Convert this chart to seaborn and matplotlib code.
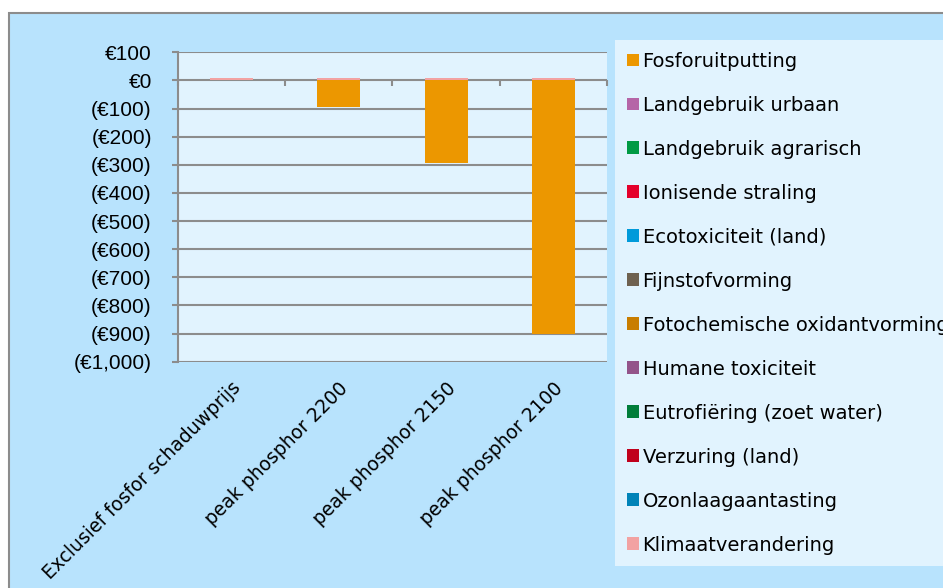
import numpy as np
import pandas as pd
import seaborn as sns
import matplotlib.pyplot as plt
from matplotlib.patches import Patch, Rectangle
from matplotlib.ticker import FuncFormatter

## Data

scenarios = ["Exclusief fosfor schaduwprijs", "peak phosphor 2200",
             "peak phosphor 2150", "peak phosphor 2100"]

# series in stacking order (Excel draws the legend in reverse)
series_names = ["Klimaatverandering", "Ozonlaagaantasting", "Verzuring (land)",
                "Eutrofiëring (zoet water)", "Humane toxiciteit",
                "Fotochemische oxidantvorming", "Fijnstofvorming",
                "Ecotoxiciteit (land)", "Ionisende straling",
                "Landgebruik agrarisch", "Landgebruik urbaan", "Fosforuitputting"]

klimaat = [9, 9, 9, 9]
ozonlaag = [0, 0, 0, 0]
verzuring = [0, 0, 0, 0]
eutrofiering = [0, 0, 0, 0]
humane_tox = [0, 0, 0, 0]
fotochem = [0, 0, 0, 0]
fijnstof = [0, 0, 0, 0]
ecotox = [0, 0, 0, 0]
ionisend = [0, 0, 0, 0]
land_agrarisch = [0, 0, 0, 0]
land_urbaan = [0, 0, 0, 0]
fosfor = [0, -96, -295, -900]

series_values = [klimaat, ozonlaag, verzuring, eutrofiering, humane_tox, fotochem,
                 fijnstof, ecotox, ionisend, land_agrarisch, land_urbaan, fosfor]

series_colors = ["#F2A2A2", "#0083B8", "#C0001C", "#007D3A", "#93548A", "#C87D00",
                 "#6E6150", "#009ADA", "#E4002B", "#009A44", "#B565A7", "#EC9700"]

yticks = [100, 0, -100, -200, -300, -400, -500, -600, -700, -800, -900, -1000]

## Plot

sns.set_theme(style="white")
plt.rcParams["font.family"] = ["DejaVu Sans"]
plt.rcParams["text.color"] = "black"

fig = plt.figure(figsize=(9.43, 5.88), dpi=100)
fig.patch.set_facecolor("white")

# outer chart frame
fig.patches.append(Rectangle((9 / 943, -0.1), 1.0, 1 - 13 / 588 + 0.1,
                             transform=fig.transFigure, facecolor="#B8E3FD",
                             edgecolor="#8C8C8C", linewidth=1.5, zorder=-5))

ax = fig.add_axes([177.5 / 943, 1 - 361.7 / 588, (607.3 - 177.5) / 943, (361.7 - 52.3) / 588])
ax.set_facecolor("#E1F3FE")

pos_base = np.zeros(len(scenarios))
neg_base = np.zeros(len(scenarios))
for name, vals, col in zip(series_names, series_values, series_colors):
    vals = np.array(vals, dtype=float)
    bottom = np.where(vals >= 0, pos_base, neg_base)
    df = pd.DataFrame({"scenario": scenarios, "value": vals})
    sns.barplot(data=df, x="scenario", y="value", bottom=bottom, color=col,
                width=0.4, saturation=1, ax=ax, label=name, zorder=3,
                linewidth=0)
    pos_base += np.where(vals >= 0, vals, 0)
    neg_base += np.where(vals < 0, vals, 0)

ax.set_ylim(-1000, 100)
ax.set_xlim(-0.5, len(scenarios) - 0.5)
ax.set_yticks(yticks)
ax.yaxis.set_major_formatter(FuncFormatter(
    lambda v, p: f"€{v:,.0f}" if v >= 0 else f"(€{-v:,.0f})"))
ax.grid(axis="y", color="#8C8C8C", linewidth=1.5, zorder=1)
ax.set_axisbelow(True)
for s in ["top", "right", "bottom"]:
    ax.spines[s].set_visible(False)
ax.spines["left"].set_color("#8C8C8C")
ax.spines["left"].set_linewidth(1.5)
ax.tick_params(axis="y", left=True, length=4, width=1.5, color="#8C8C8C",
               pad=14.5, labelsize=15, labelcolor="black")
for lab in ax.get_yticklabels():
    lab.set_fontfamily("Liberation Sans")

ax.set_xlabel("")
ax.set_ylabel("")
ax.tick_params(axis="x", bottom=False, pad=6, labelsize=13.5, labelcolor="black")
ax.set_xticks(range(len(scenarios)))
ax.set_xticklabels(scenarios, rotation=45, ha="right", va="top",
                   rotation_mode="anchor")

# category separators on the zero line
sec = ax.secondary_xaxis(1000 / 1100)
sec.set_xticks(np.arange(len(scenarios) + 1) - 0.5)
sec.set_xticklabels([])
sec.tick_params(axis="x", direction="in", length=4, width=1.5, color="#8C8C8C")
sec.spines["bottom"].set_visible(False)
sec.spines["top"].set_visible(False)

# legend (Excel order: last series on top)
handles = [Patch(facecolor=c, edgecolor="none", label=n)
           for n, c in zip(series_names, series_colors)][::-1]
leg = fig.legend(handles=handles, loc="upper left",
                 bbox_to_anchor=(615 / 943, 1 - 40 / 588), borderaxespad=0,
                 frameon=True, fancybox=False, fontsize=14, handlelength=0.62,
                 handleheight=0.62, handletextpad=0.2, labelspacing=1.285,
                 borderpad=0.6, labelcolor="black")
leg.get_frame().set_facecolor("#E1F3FE")
leg.get_frame().set_edgecolor("none")
leg.get_frame().set_alpha(1)
if ax.get_legend() is not None:
    ax.get_legend().remove()

fig.savefig("out.png", dpi=100)
